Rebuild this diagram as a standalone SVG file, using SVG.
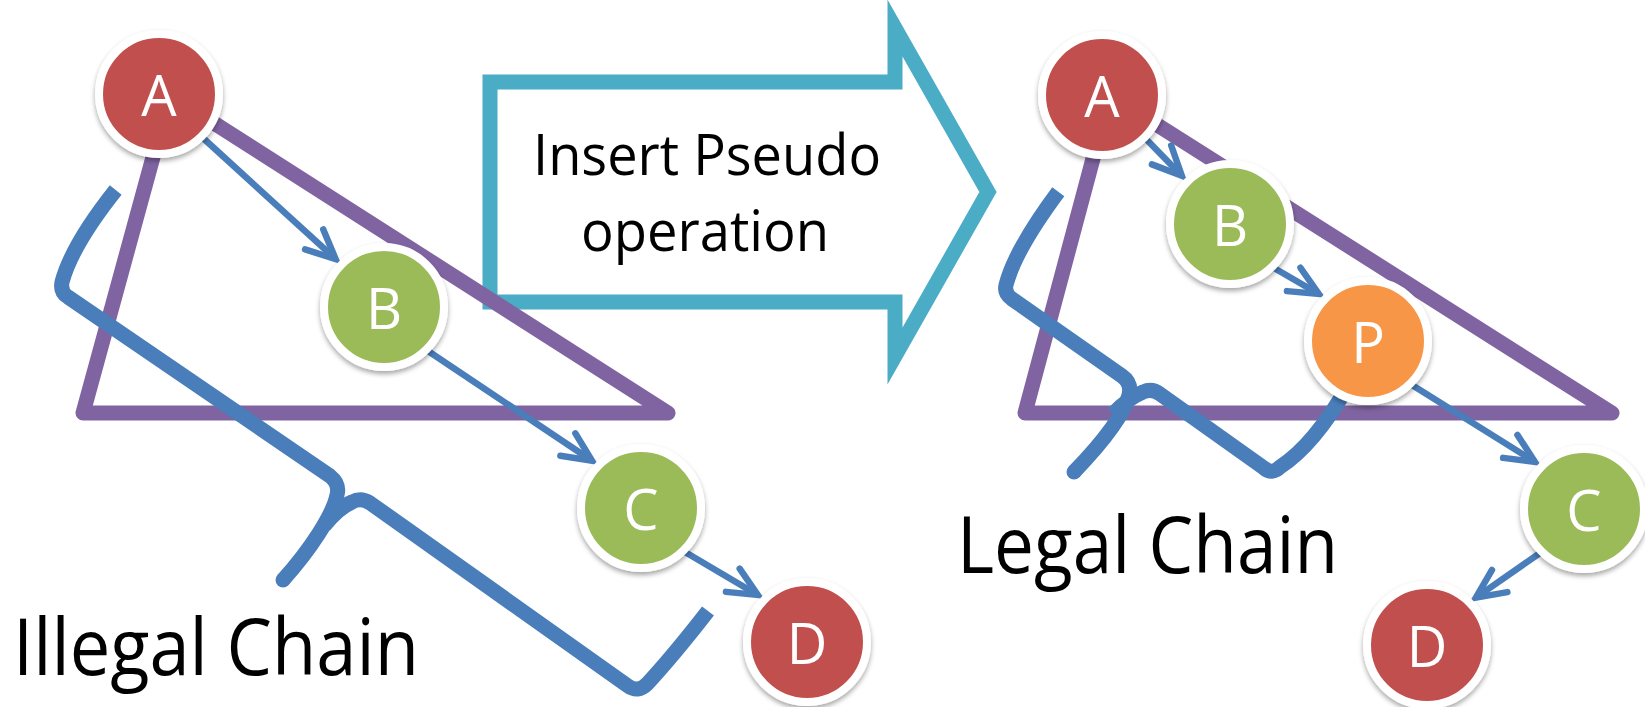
<svg xmlns="http://www.w3.org/2000/svg" width="1645" height="707" viewBox="0 0 1645 707">
  <style>
    .tri { fill: none; stroke: #8064A2; stroke-width: 15; stroke-linejoin: round; }
    .chain { fill: none; stroke: #4A7EBB; stroke-width: 15; stroke-linecap: butt; stroke-linejoin: round; }
    .conn { stroke: #4A7EBB; stroke-width: 6.5; marker-end: url(#arr); }
    .node circle { stroke: #FFFFFF; stroke-width: 8; }
    .node text { font-family: "Open Sans", "Liberation Sans", sans-serif; font-size: 56px; fill: #FFFFFF; text-anchor: middle; }
    .red { fill: #C0504D; }
    .green { fill: #9BBB59; }
    .orange { fill: #F79646; }
    .label { font-family: "Open Sans", "Liberation Sans", sans-serif; fill: #000000; }
  </style>
  <defs>
    <marker id="arr" markerUnits="userSpaceOnUse" markerWidth="50" markerHeight="50" viewBox="-40 -25 50 50" refX="0" refY="0" orient="auto" overflow="visible">
      <path d="M-29,-13.5 L0,0 L-29,13.5" fill="none" stroke="#4A7EBB" stroke-width="6.5" stroke-linecap="round" stroke-linejoin="miter"/>
    </marker>
    <filter id="shadow" x="-30%" y="-30%" width="160%" height="160%">
      <feDropShadow dx="0" dy="3" stdDeviation="2.5" flood-color="#000000" flood-opacity="0.35"/>
    </filter>
  </defs>

  <rect width="1645" height="707" fill="#FFFFFF"/>

  <!-- transformation arrow -->
  <g id="transform-arrow">
    <path d="M490,82 L895,82 L895,28 L988,192 L895,356 L895,302 L490,302 Z" fill="#FFFFFF" stroke="#4BACC6" stroke-width="15" stroke-linejoin="miter"/>
    <text class="label" x="707" y="175" font-size="56" text-anchor="middle" textLength="348" lengthAdjust="spacingAndGlyphs">Insert Pseudo</text>
    <text class="label" x="705" y="251" font-size="56" text-anchor="middle" textLength="248" lengthAdjust="spacingAndGlyphs">operation</text>
  </g>

  <!-- dependency triangles -->
  <g id="triangles">
    <path class="tri" d="M170,95 L668,413 L83,413 Z"/>
    <path class="tri" d="M1110,95 L1612,413 L1025,413 Z"/>
  </g>

  <!-- broken / repaired chain strokes -->
  <g id="chains">
    <path class="chain" d="M115.7,190 Q72,245 62,282 Q60,292 68,297 L330,476 Q340,484 337,495 C333,515 310,550 283,580"/>
    <path class="chain" d="M324,526 Q338,508 352,502 Q361,497 370,503 L628,686 Q638,693 647,684 Q673,656 708,611"/>
    <circle cx="283" cy="580" r="7.5" fill="#4A7EBB"/>

    <path class="chain" d="M1058.3,191.7 Q1015,250 1006,285 Q1004,293 1012,299 L1122,376 Q1132,383 1129,395 C1124,415 1100,445 1074,472"/>
    <path class="chain" d="M1113,414 Q1128,398 1143,392 Q1152,388 1160,394 L1264,468 Q1272,475 1280,467 Q1314,445 1348,386"/>
    <circle cx="1074" cy="472" r="7.5" fill="#4A7EBB"/>
  </g>

  <!-- connectors -->
  <g id="connectors">
    <line class="conn" x1="203" y1="138" x2="335.6" y2="259"/>
    <line class="conn" x1="428" y1="351" x2="592" y2="460.7"/>
    <line class="conn" x1="685" y1="552" x2="757.8" y2="595"/>
    <line class="conn" x1="1146" y1="139" x2="1181.8" y2="175.7"/>
    <line class="conn" x1="1274" y1="268" x2="1318.8" y2="294"/>
    <line class="conn" x1="1412" y1="385" x2="1534.9" y2="461.8"/>
    <line class="conn" x1="1540" y1="553" x2="1475.9" y2="597.6"/>
  </g>

  <!-- illegal chain nodes -->
  <g id="left-A" class="node" filter="url(#shadow)">
    <circle class="red" cx="159" cy="94" r="60"/>
    <text x="159" y="116">A</text>
  </g>
  <g id="left-B" class="node" filter="url(#shadow)">
    <circle class="green" cx="384" cy="307" r="60"/>
    <text x="384" y="329">B</text>
  </g>
  <g id="left-C" class="node" filter="url(#shadow)">
    <circle class="green" cx="641" cy="508" r="60"/>
    <text x="641" y="530">C</text>
  </g>
  <g id="left-D" class="node" filter="url(#shadow)">
    <circle class="red" cx="807" cy="642" r="60"/>
    <text x="807" y="664">D</text>
  </g>

  <!-- legal chain nodes -->
  <g id="right-A" class="node" filter="url(#shadow)">
    <circle class="red" cx="1102" cy="95" r="60"/>
    <text x="1102" y="117">A</text>
  </g>
  <g id="right-B" class="node" filter="url(#shadow)">
    <circle class="green" cx="1230" cy="224" r="60"/>
    <text x="1230" y="246">B</text>
  </g>
  <g id="right-P" class="node" filter="url(#shadow)">
    <circle class="orange" cx="1368" cy="341" r="60"/>
    <text x="1368" y="363">P</text>
  </g>
  <g id="right-C" class="node" filter="url(#shadow)">
    <circle class="green" cx="1584" cy="509" r="60"/>
    <text x="1584" y="531">C</text>
  </g>
  <g id="right-D" class="node" filter="url(#shadow)">
    <circle class="red" cx="1427" cy="645" r="60"/>
    <text x="1427" y="667">D</text>
  </g>

  <!-- captions -->
  <g id="captions">
    <text class="label" x="13" y="675" font-size="78" textLength="406" lengthAdjust="spacingAndGlyphs">Illegal Chain</text>
    <text class="label" x="957" y="573" font-size="78" textLength="381" lengthAdjust="spacingAndGlyphs">Legal Chain</text>
  </g>
</svg>
